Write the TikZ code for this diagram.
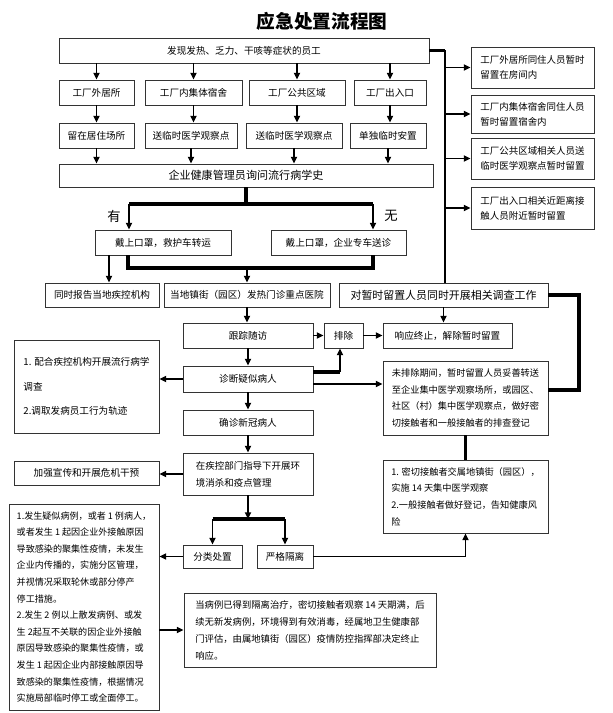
\documentclass[tikz,border=0pt]{standalone}
\usepackage{fontspec}
\setmainfont{Noto Sans CJK SC}
\usetikzlibrary{arrows.meta,calc}
\newcommand\fsz[2]{\fontsize{#1pt}{#2pt}\selectfont}
\newcommand\mybox[7][]{%
  \pgfmathsetmacro\bxw{(#5-#3)*0.75}%
  \pgfmathsetmacro\bxh{(#6-#4)*0.75}%
  \node[box,minimum width=\bxw pt,minimum height=\bxh pt,#1] (#2) at ({(#3+#5)/2},{(#4+#6)/2}) {#7};}
\tikzset{
  box/.style={draw=black!80,line width=0.6pt,inner sep=0pt,font=\fsz{7.2}{9}},
  multi/.style={align=left},
  arr/.style={line width=1.2pt,-{Triangle[length=5pt,width=4.5pt]}},
  med/.style={line width=1.4pt},
  thk/.style={line width=2.4pt},
  lbl/.style={font=\fsz{10}{12}},
}
\begin{document}
\begin{tikzpicture}[x=0.75pt,y=-0.75pt]
\useasboundingbox (0,0) rectangle (613,713);
% title
\node[font=\fsz{14}{16}\bfseries] (title) at (322,21) {应急处置流程图};
% top
\mybox{T}{59}{38}{429}{63}{发现发热、乏力、干咳等症状的员工}
\mybox{A1}{59}{80}{134}{105}{工厂外居所}
\mybox{A2}{145}{80}{242}{105}{工厂内集体宿舍}
\mybox{A3}{249}{80}{345}{105}{工厂公共区域}
\mybox{A4}{354}{80}{426}{105}{工厂出入口}
\mybox{B1}{59}{123}{134}{148}{留在居住场所}
\mybox{B2}{145}{123}{237}{148}{送临时医学观察点}
\mybox{B3}{246}{123}{342}{148}{送临时医学观察点}
\mybox{B4}{350}{123}{426}{148}{单独临时安置}
\mybox[font=\fsz{8.3}{10}]{C}{59}{164}{433}{187}{企业健康管理员询问流行病学史}
% right column
\mybox[multi,font=\fsz{7.1}{11.25}]{R1}{471}{47}{594}{88}{工厂外居所同住人员暂时\\留置在房间内}
\mybox[multi,font=\fsz{7.1}{11.25}]{R2}{471}{95}{594}{133}{工厂内集体宿舍同住人员\\暂时留置宿舍内}
\mybox[multi,font=\fsz{7.1}{11.25}]{R3}{471}{138}{594}{179}{工厂公共区域相关人员送\\临时医学观察点暂时留置}
\mybox[multi,font=\fsz{7.1}{11.25}]{R4}{471}{187}{594}{229}{工厂出入口相关近距离接\\触人员附近暂时留置}
% yes / no
\node[lbl] (yes) at (114,216) {有};
\node[lbl] (no) at (391,216) {无};
\mybox{D1}{95}{230}{231}{255}{戴上口罩，救护车转运}
\mybox{D2}{271}{230}{406}{255}{戴上口罩，企业专车送诊}
\mybox{E1}{45}{283}{159}{307}{同时报告当地疾控机构}
\mybox{E2}{164}{283}{330}{307}{当地镇街（园区）发热门诊重点医院}
\mybox[font=\fsz{8.2}{10}]{E3}{339}{283}{548}{307}{对暂时留置人员同时开展相关调查工作}
\mybox{F1}{183}{323}{313}{348}{跟踪随访}
\mybox{F2}{324}{323}{363}{348}{排除}
\mybox{F3}{383}{323}{512}{348}{响应终止，解除暂时留置}
\mybox[multi,font=\fsz{7.2}{18.4}]{L1}{14}{340}{159}{433}{1. 配合疾控机构开展流行病学\\调查\\2.调取发病员工行为轨迹}
\mybox{G}{183}{366}{313}{392}{诊断疑似病人}
\mybox[multi,font=\fsz{6.9}{12.5}]{H}{383}{361}{548}{435}{未排除期间，暂时留置人员妥善转送\\至企业集中医学观察场所，或园区、\\社区（村）集中医学观察点，做好密\\切接触者和一般接触者的排查登记}
\mybox{I}{183}{410}{313}{435}{确诊新冠病人}
\mybox[multi,font=\fsz{7.1}{12.75}]{J}{183}{453}{313}{495}{在疾控部门指导下开展环\\境消杀和疫点管理}
\mybox{L2}{14}{461}{159}{485}{加强宣传和开展危机干预}
\mybox[multi,font=\fsz{6.9}{12.5}]{K}{383}{460}{548}{533}{1. 密切接触者交属地镇街（园区），\\实施 14 天集中医学观察\\2.一般接触者做好登记，告知健康风\\险}
\mybox{M1}{183}{545}{242}{568}{分类处置}
\mybox{M2}{257}{545}{313}{568}{严格隔离}
\mybox[multi,font=\fsz{6.8}{12.45}]{L3}{9}{504}{159}{710}{1.发生疑似病例，或者 1 例病人，\\或者发生 1 起因企业外接触原因\\导致感染的聚集性疫情，未发生\\企业内传播的，实施分区管理，\\并视情况采取轮休或部分停产\\停工措施。\\2.发生 2 例以上散发病例、或发\\生 2起互不关联的因企业外接触\\原因导致感染的聚集性疫情，或\\发生 1 起因企业内部接触原因导\\致感染的聚集性疫情，根据情况\\实施局部临时停工或全面停工。}
\mybox[multi,font=\fsz{7}{12.75}]{N}{184}{593}{436}{667}{当病例已得到隔离治疗，密切接触者观察 14 天期满，后\\续无新发病例，环境得到有效消毒，经属地卫生健康部\\门评估，由属地镇街（园区）疫情防控指挥部决定终止\\响应。}
% ---- connectors ----
\foreach \n in {1,...,4}{
  \draw[arr] (T.south -| A\n) -- (A\n.north);
  \draw[arr] (A\n.south) -- (A\n.south |- B\n.north);
  \draw[arr] (B\n.south) -- (B\n.south |- C.north);
}
% right vertical line
\coordinate (v0) at (445,50.5);
\draw[thk] (T.east) -- (v0);
\draw[med] (v0) -- (v0 |- E3.north);
\foreach \n in {1,...,4}{\draw[arr] (v0 |- R\n.west) -- (R\n.west);}
% split yes/no
\coordinate (sl) at (129,204);
\coordinate (sr) at (373,204);
\draw[thk] (C.south) -- (C.south |- sl);
\draw[thk] (sl) -- (sr);
\draw[arr] (sl) -- (sl |- D1.north);
\draw[arr] (sr) -- (sr |- D2.north);
% merge
\coordinate (ml) at (128,268);
\coordinate (mr) at (373,268);
\draw[thk] (ml |- D1.south) -- (ml) -- (mr) -- (mr |- D2.south);
\draw[arr] (ml -| E2.north) -- (E2.north);
\coordinate (ea) at (109,255);
\draw[arr] (ea |- D1.south) -- (ea |- E1.north);
% middle flow
\draw[arr] (E2.south) -- (E2.south |- F1.north);
\draw[arr] (E3.south) -- (E3.south |- F3.north);
\draw[arr] (F1.east) -- (F2.west);
\draw[arr] (F2.east) -- (F3.west);
\draw[arr] (F1.south) -- (G.north);
\coordinate (g1) at (340,372);
\draw[thk] (g1 -| G.east) -- (g1);
\draw[arr] (g1) -- (g1 |- F2.south);
\coordinate (g2) at (313,384);
\draw[arr] (g2 -| G.east) -- (g2 -| H.west);
\draw[arr] (G.west) -- (G.west -| L1.east);
\draw[arr] (G.south) -- (I.north);
\draw[arr] (I.south) -- (J.north);
\draw[arr] (J.west) -- (J.west -| L2.east);
% loop on the right
\coordinate (lp1) at (579,295);
\coordinate (lp2) at (579,390);
\draw[thk] (E3.east |- lp1) -- (lp1) -- (lp2) -- (lp2 -| H.east);
\draw[thk] (H.south) -- (K.north);
% lower split
\coordinate (js) at (248,519);
\draw[arr] (J.south) -- (J.south |- js);
\draw[thk] (M1.north |- js) -- (M2.north |- js);
\draw[arr] (M1.north |- js) -- (M1.north);
\draw[arr] (M2.north |- js) -- (M2.north);
\draw[arr] (M1.west) -- (M1.west -| L3.east);
\draw[med] (M2.east) -- (K.south |- M2.east);
\draw[arr] (K.south |- M2.east) -- (K.south);
\draw[arr] (N.west -| L3.east) -- (N.west);
\end{tikzpicture}
\end{document}
